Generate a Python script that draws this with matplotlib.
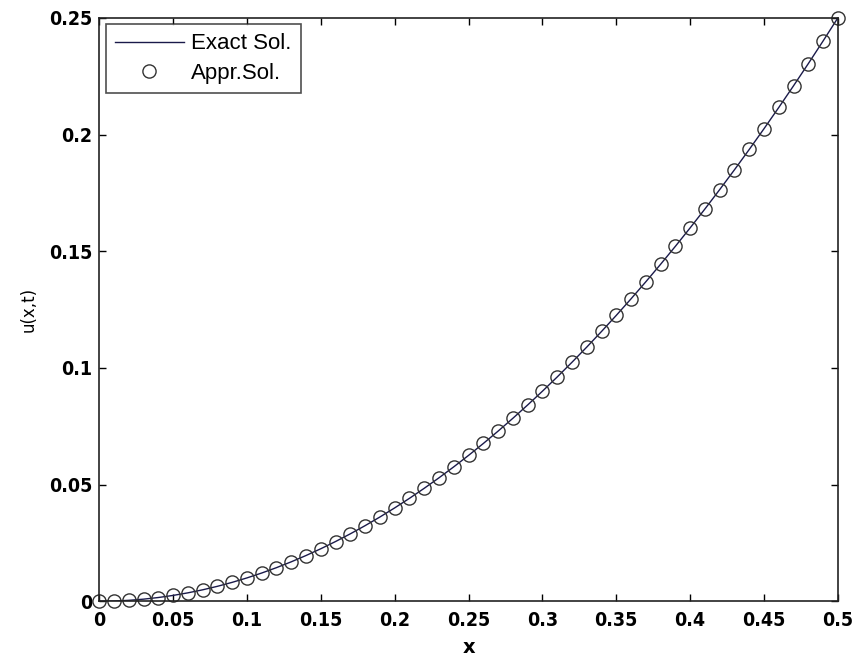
import matplotlib
matplotlib.use("Agg")
import matplotlib.pyplot as plt
from matplotlib import font_manager

# valores
x_vals = [0.00, 0.01, 0.02, 0.03, 0.04, 0.05, 0.06, 0.07, 0.08, 0.09,
          0.10, 0.11, 0.12, 0.13, 0.14, 0.15, 0.16, 0.17, 0.18, 0.19,
          0.20, 0.21, 0.22, 0.23, 0.24, 0.25, 0.26, 0.27, 0.28, 0.29,
          0.30, 0.31, 0.32, 0.33, 0.34, 0.35, 0.36, 0.37, 0.38, 0.39,
          0.40, 0.41, 0.42, 0.43, 0.44, 0.45, 0.46, 0.47, 0.48, 0.49, 0.50]

u_exacta = [0.0000, 0.0001, 0.0004, 0.0009, 0.0016, 0.0025, 0.0036, 0.0049, 0.0064, 0.0081,
            0.0100, 0.0121, 0.0144, 0.0169, 0.0196, 0.0225, 0.0256, 0.0289, 0.0324, 0.0361,
            0.0400, 0.0441, 0.0484, 0.0529, 0.0576, 0.0625, 0.0676, 0.0729, 0.0784, 0.0841,
            0.0900, 0.0961, 0.1024, 0.1089, 0.1156, 0.1225, 0.1296, 0.1369, 0.1444, 0.1521,
            0.1600, 0.1681, 0.1764, 0.1849, 0.1936, 0.2025, 0.2116, 0.2209, 0.2304, 0.2401, 0.2500]

u_aprox = list(u_exacta)

xticks = [0, 0.05, 0.1, 0.15, 0.2, 0.25, 0.3, 0.35, 0.4, 0.45, 0.5]
xtick_labels = ["0", "0.05", "0.1", "0.15", "0.2", "0.25", "0.3", "0.35", "0.4", "0.45", "0.5"]
yticks = [0, 0.05, 0.1, 0.15, 0.2, 0.25]
ytick_labels = ["0", "0.05", "0.1", "0.15", "0.2", "0.25"]

# fuente angosta para los ticks, si esta instalada
nombres = set(f.name for f in font_manager.fontManager.ttflist)
if "Liberation Sans Narrow" in nombres:
    fuente = "Liberation Sans Narrow"
    estirar = "normal"
else:
    fuente = "DejaVu Sans"
    estirar = "condensed"

fig = plt.figure(figsize=(8.55, 6.6), dpi=100)
ax = fig.add_axes([0.116, 0.089, 0.864, 0.884])

ax.plot(x_vals, u_exacta, color="#1a1a4a", linewidth=1.0, label="Exact Sol.")
ax.plot(x_vals, u_aprox, linestyle="none", marker="o", markersize=9.5,
        markerfacecolor="none", markeredgecolor="#333333", markeredgewidth=1.0,
        label="Appr.Sol.", clip_on=False)

ax.set_xlim(0, 0.5)
ax.set_ylim(0, 0.25)
ax.set_xticks(xticks)
ax.set_xticklabels(xtick_labels, fontsize=14, fontweight="bold", family=fuente,
                   fontstretch=estirar)
ax.set_yticks(yticks)
ax.set_yticklabels(ytick_labels, fontsize=14, fontweight="bold", family=fuente,
                   fontstretch=estirar)
ax.tick_params(axis="x", direction="in", top=True, length=5, width=1, pad=7)
ax.tick_params(axis="y", direction="in", right=True, length=5, width=1, pad=5)
for s in ax.spines.values():
    s.set_linewidth(1.2)
    s.set_color("#222222")

ax.set_xlabel("x", fontsize=14, fontweight="bold", family=fuente, labelpad=6)
ax.set_ylabel("u(x,t)", fontsize=12, family=fuente, labelpad=8)

leg = ax.legend(loc="upper left", frameon=True, fancybox=False,
                edgecolor="#222222", borderaxespad=0.3, handlelength=3.1,
                handletextpad=0.35, borderpad=0.4, labelspacing=0.4,
                prop={"family": ["Liberation Sans", "DejaVu Sans"], "size": 16})
leg.get_frame().set_linewidth(1.2)

fig.savefig("out.png", dpi=100)
